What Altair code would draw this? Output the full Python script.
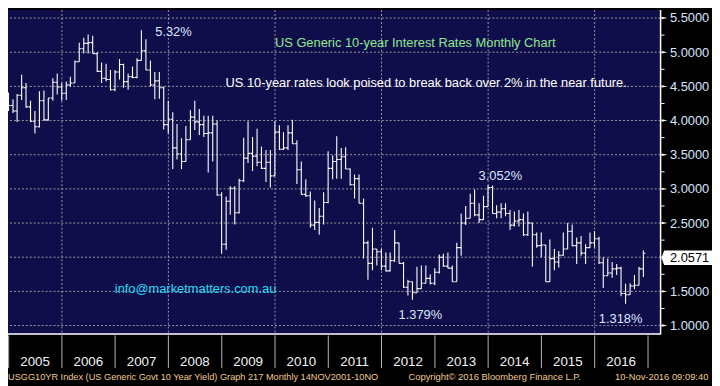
import altair as alt
import pandas as pd

FONT = "Liberation Sans"

# Monthly OHLC of the US generic 10-year yield, Oct 2004 .. Nov 2016
opens = [
    4.13, 4.02, 4.35,
    4.22, 4.14, 4.37, 4.48, 4.20, 3.99, 3.91, 4.29, 4.01, 4.33, 4.56, 4.49,
    4.40, 4.52, 4.55, 4.86, 5.05, 5.13, 5.14, 4.98, 4.72, 4.62, 4.60, 4.45,
    4.71, 4.82, 4.57, 4.64, 4.63, 4.88, 5.02, 4.74, 4.52, 4.58, 4.48, 3.94,
    4.02, 3.60, 3.51, 3.40, 3.72, 4.05, 3.98, 3.94, 3.81, 3.82, 3.95, 2.91,
    2.19, 2.82, 3.01, 2.65, 3.12, 3.45, 3.52, 3.48, 3.39, 3.30, 3.39, 3.19,
    3.83, 3.58, 3.60, 3.82, 3.66, 3.28, 2.92, 2.90, 2.47, 2.51, 2.60, 2.80,
    3.30, 3.40, 3.43, 3.47, 3.29, 3.06, 3.15, 2.79, 2.21, 1.91, 2.12, 2.08,
    1.87, 1.80, 1.95, 2.21, 1.91, 1.56, 1.64, 1.48, 1.54, 1.62, 1.69, 1.62,
    1.78, 2.00, 1.87, 1.84, 1.64, 2.14, 2.50, 2.57, 2.79, 2.62, 2.55, 2.74,
    3.02, 2.64, 2.66, 2.71, 2.64, 2.47, 2.53, 2.55, 2.33, 2.50, 2.33, 2.17,
    2.18, 1.64, 1.98, 1.93, 2.03, 2.12, 2.38, 2.17, 2.21, 2.06, 2.14, 2.21,
    2.27, 1.92, 1.73, 1.77, 1.83, 1.84, 1.47, 1.45, 1.58, 1.59, 1.83,
]
highs = [
    4.26, 4.36, 4.41,
    4.31, 4.39, 4.67, 4.55, 4.29, 4.14, 4.43, 4.44, 4.33, 4.62, 4.69, 4.55,
    4.57, 4.64, 4.88, 5.14, 5.21, 5.26, 5.24, 5.00, 4.85, 4.83, 4.74, 4.74,
    4.90, 4.83, 4.69, 4.79, 4.91, 5.32, 5.19, 4.88, 4.71, 4.71, 4.50, 4.29,
    4.12, 3.95, 3.74, 3.92, 4.15, 4.29, 4.17, 4.07, 4.07, 4.07, 4.00, 2.95,
    2.89, 3.04, 3.04, 3.15, 3.75, 3.99, 3.76, 3.88, 3.62, 3.57, 3.57, 3.99,
    3.93, 3.83, 3.93, 4.01, 3.71, 3.40, 3.14, 2.96, 2.83, 2.72, 2.95, 3.55,
    3.49, 3.77, 3.60, 3.61, 3.30, 3.21, 3.21, 2.86, 2.24, 2.43, 2.12, 2.12,
    2.07, 2.07, 2.40, 2.21, 1.93, 1.67, 1.64, 1.86, 1.88, 1.88, 1.75, 1.84,
    2.04, 2.05, 2.07, 1.88, 2.21, 2.64, 2.75, 2.93, 2.99, 2.79, 2.90, 3.052,
    3.05, 2.76, 2.79, 2.79, 2.69, 2.67, 2.69, 2.64, 2.67, 2.50, 2.36, 2.36,
    2.18, 2.26, 2.12, 2.09, 2.36, 2.50, 2.48, 2.29, 2.31, 2.19, 2.36, 2.38,
    2.30, 2.00, 1.98, 1.93, 1.90, 1.86, 1.61, 1.62, 1.74, 1.86, 2.10,
]
lows = [
    3.93, 4.02, 4.14,
    4.11, 3.98, 4.30, 4.19, 3.98, 3.81, 3.90, 4.00, 4.00, 4.29, 4.38, 4.29,
    4.30, 4.50, 4.55, 4.86, 4.98, 4.98, 4.98, 4.71, 4.55, 4.57, 4.44, 4.43,
    4.60, 4.48, 4.45, 4.62, 4.62, 4.88, 4.74, 4.50, 4.31, 4.32, 3.87, 3.81,
    3.29, 3.43, 3.29, 3.40, 3.72, 3.86, 3.79, 3.76, 3.24, 3.40, 2.90, 2.05,
    2.11, 2.62, 2.48, 2.64, 3.10, 3.38, 3.26, 3.33, 3.29, 3.10, 3.02, 3.19,
    3.57, 3.57, 3.57, 3.66, 3.07, 2.92, 2.88, 2.43, 2.40, 2.33, 2.48, 2.79,
    3.14, 3.15, 3.15, 3.29, 3.05, 2.86, 2.79, 1.98, 1.67, 1.81, 1.88, 1.81,
    1.79, 1.79, 1.93, 1.91, 1.55, 1.44, 1.379, 1.48, 1.54, 1.62, 1.60, 1.59,
    1.76, 1.86, 1.84, 1.64, 1.64, 2.02, 2.47, 2.57, 2.60, 2.50, 2.55, 2.74,
    2.64, 2.57, 2.57, 2.60, 2.40, 2.45, 2.45, 2.31, 2.31, 1.86, 2.14, 2.00,
    1.64, 1.64, 1.81, 1.85, 2.02, 2.12, 2.16, 1.90, 2.02, 1.90, 2.14, 2.14,
    1.90, 1.55, 1.73, 1.70, 1.74, 1.43, 1.318, 1.45, 1.53, 1.59, 1.71,
]
closes = [
    4.02, 4.35, 4.22,
    4.14, 4.37, 4.48, 4.20, 3.99, 3.91, 4.29, 4.01, 4.33, 4.56, 4.49, 4.40,
    4.52, 4.55, 4.86, 5.05, 5.13, 5.14, 4.98, 4.72, 4.62, 4.60, 4.45, 4.71,
    4.82, 4.57, 4.64, 4.63, 4.88, 5.02, 4.74, 4.52, 4.58, 4.48, 3.94, 4.02,
    3.60, 3.51, 3.40, 3.72, 4.05, 3.98, 3.94, 3.81, 3.82, 3.95, 2.91, 2.19,
    2.82, 3.01, 2.65, 3.12, 3.45, 3.52, 3.48, 3.39, 3.30, 3.39, 3.19, 3.83,
    3.58, 3.60, 3.82, 3.66, 3.28, 2.92, 2.90, 2.47, 2.51, 2.60, 2.80, 3.30,
    3.40, 3.43, 3.47, 3.29, 3.06, 3.15, 2.79, 2.21, 1.91, 2.12, 2.08, 1.87,
    1.80, 1.95, 2.21, 1.91, 1.56, 1.64, 1.48, 1.54, 1.62, 1.69, 1.62, 1.78,
    2.00, 1.87, 1.84, 1.64, 2.14, 2.50, 2.57, 2.79, 2.62, 2.55, 2.74, 3.02,
    2.64, 2.66, 2.71, 2.64, 2.47, 2.53, 2.55, 2.33, 2.50, 2.33, 2.17, 2.18,
    1.64, 1.98, 1.93, 2.03, 2.12, 2.38, 2.17, 2.21, 2.06, 2.14, 2.21, 2.27,
    1.92, 1.73, 1.77, 1.83, 1.84, 1.47, 1.45, 1.58, 1.59, 1.83, 2.0571,
]
assert len(opens) == len(highs) == len(lows) == len(closes) == 146

# axis / grid levels
label_levels = [1.0, 1.5, 2.5, 3.0, 3.5, 4.0, 4.5, 5.0, 5.5]
grid_levels = [1.0, 1.5, 2.0, 2.5, 3.0, 3.5, 4.0, 4.5, 5.0, 5.5]
minor_levels = [1.25, 1.75, 2.25, 2.75, 3.25, 3.75, 4.25, 4.75, 5.25]
years = list(range(2005, 2017))
sep_years = list(range(2005, 2018))
grid_years = [2006, 2008, 2010, 2012, 2014, 2016]
last_value = [2.0571]

# annotation anchors
ann_labels = ["5.32%", "3.052%", "1.379%", "1.318%"]
ann_dates = ["2007-06-30", "2013-12-31", "2012-07-31", "2016-07-31"]
ann_values = [5.32, 3.052, 1.379, 1.318]

COL_BG = "#0f0d4a"
COL_GRID = "#9c9c9c"
COL_AXIS = "#d8e6ff"
COL_FOOT = "#f2c98e"

n = len(closes)
month_start = pd.date_range("2004-10-01", periods=n, freq="MS")
df = pd.DataFrame({
    "date": month_start + pd.offsets.MonthEnd(0),
    "open": opens, "high": highs, "low": lows, "close": closes,
})
df["d_open"] = df["date"] - pd.Timedelta(days=14)
df["d_close"] = df["date"] + pd.Timedelta(days=14)

xs = alt.Scale(domain=[alt.DateTime(year=2004, month=12, date=27, hours=14),
                       alt.DateTime(year=2017, month=3, date=28)])
ys = alt.Scale(domain=[0.870, 5.616], zero=False, nice=False)

Y_AXIS = alt.Axis(
    orient="right", values=label_levels, format=".4f", ticks=False, tickSize=0,
    domain=False, grid=False, labelPadding=9, labelColor=COL_AXIS, labelFont=FONT,
    labelFontSize=13, labelFlush=False, labelOverlap=False, title=None)


def Y(field):
    return alt.Y(field, scale=ys, axis=Y_AXIS, title=None)


def X(field):
    return alt.X(field, scale=xs, axis=None, title=None)


W, H = 660, 328

hgrid = alt.Chart(pd.DataFrame({"lvl": grid_levels})).mark_rule(
    color=COL_GRID, strokeDash=[2, 2], strokeWidth=1
).encode(y=Y("lvl:Q"))

vgrid = alt.Chart(pd.DataFrame({"d": pd.to_datetime([f"{y}-01-01" for y in grid_years])})).mark_rule(
    color=COL_GRID, strokeDash=[2, 2], strokeWidth=1
).encode(x=X("d:T"))

base = alt.Chart(df)
hl = base.mark_rule(color="white", strokeWidth=1.1, clip=True).encode(
    x=X("date:T"), y=Y("low:Q"), y2="high:Q")
op = base.mark_rule(color="white", strokeWidth=1.1, clip=True).encode(
    x=X("d_open:T"), x2="date:T", y=Y("open:Q"))
cl = base.mark_rule(color="white", strokeWidth=1.1, clip=True).encode(
    x=X("date:T"), x2="d_close:T", y=Y("close:Q"))

# frame
frame_bottom = alt.Chart(pd.DataFrame({"a": [0]})).mark_rule(color="white", strokeWidth=1.5).encode(
    x=alt.value(0), x2=alt.value(W), y=alt.value(H - 0.5))
frame_right = alt.Chart(pd.DataFrame({"a": [0]})).mark_rule(color="white", strokeWidth=1.5).encode(
    x=alt.value(W), y=alt.value(0), y2=alt.value(H))

# bottom year strip
sep = alt.Chart(pd.DataFrame({"d": pd.to_datetime([f"{y}-01-01" for y in sep_years])})).mark_rule(
    color="#b4b4b4", strokeWidth=1
).encode(x=X("d:T"), y=alt.value(H + 1), y2=alt.value(H + 34))
year_lbl = alt.Chart(pd.DataFrame({
    "d": pd.to_datetime([f"{y}-07-01" for y in years]), "lab": [str(y) for y in years]
})).mark_text(font=FONT, fontSize=13.5, color="#f2f2f2", align="center", baseline="alphabetic").encode(
    x=X("d:T"), y=alt.value(359.7), text="lab:N")

# right-axis decorations
minor = alt.Chart(pd.DataFrame({"lvl": minor_levels})).mark_rule(color="white", strokeWidth=1).encode(
    x=alt.value(W), x2=alt.value(W + 4), y=Y("lvl:Q"))
arrows = alt.Chart(pd.DataFrame({"lvl": grid_levels})).mark_point(
    shape="M -1 -0.4 L 1 0 L -1 0.4 Z", filled=True, color="white", opacity=1, size=36
).encode(x=alt.value(W + 4), y=Y("lvl:Q"))
lv = pd.DataFrame({"v": last_value})
last_box = alt.Chart(lv).mark_point(
    shape="M -1 0 L -0.9 -0.29 L 1 -0.29 L 1 0.29 L -0.9 0.29 Z",
    filled=True, color="white", opacity=1, size=2601, yOffset=4.5
).encode(x=alt.value(W + 26.5), y=Y("v:Q"))
last_txt = alt.Chart(lv).mark_text(
    font=FONT, fontSize=13, color="black", align="left", baseline="alphabetic", dy=8.7
).encode(x=alt.value(W + 9.5), y=Y("v:Q"), text=alt.Text("v:Q", format=".4f"))

# data-anchored annotations
ann = pd.DataFrame({"d": pd.to_datetime(ann_dates), "v": ann_values, "lab": ann_labels})
ann_off = {"5.32%": ("left", 14, 5.5), "3.052%": ("left", -9.5, -5),
           "1.379%": ("center", 8, 20), "1.318%": ("center", -5, 19)}
ann_layers = []
for lab, (al, dx, dy) in ann_off.items():
    ann_layers.append(
        alt.Chart(ann).transform_filter(alt.datum.lab == lab).mark_text(
            font=FONT, fontSize=13, color="#dde8ff", align=al, baseline="alphabetic", dx=dx, dy=dy
        ).encode(x=X("d:T"), y=Y("v:Q"), text="lab:N")
    )


def label(text, x, y, color, size=13, align="left"):
    return alt.Chart(pd.DataFrame({"s": [text]})).mark_text(
        font=FONT, fontSize=size, color=color, align=align, baseline="alphabetic"
    ).encode(x=alt.value(x), y=alt.value(y), text="s:N")


texts = [
    label("US Generic 10-year Interest Rates Monthly Chart", 270, 37.3, "#8fe88f"),
    label("US 10-year rates look poised to break back over 2% in the near future.", 220, 77.3, "#ffffff"),
    label("info@marketmatters.com.au", 108, 286.3, "#22dcf5"),
    label("USGG10YR Index (US Generic Govt 10 Year Yield) Graph 217  Monthly 14NOV2001-10NO",
          0, 374.3, COL_FOOT, size=9.3),
    label("Copyright\u00a9 2016 Bloomberg Finance L.P.", 405, 374.3, COL_FOOT, size=9.5),
    label("10-Nov-2016 09:09:40", 614, 374.3, COL_FOOT, size=9.5),
]

chart = alt.layer(
    hgrid, vgrid, hl, op, cl, frame_bottom, frame_right, sep, year_lbl,
    minor, arrows, last_box, last_txt, *ann_layers, *texts
).properties(
    width=W, height=H,
    background="#000000",
    padding={"left": 0, "top": 0, "right": 52, "bottom": 50},
    autosize=alt.AutoSizeParams(type="none"),
).configure_view(fill=COL_BG, strokeWidth=0)

chart.save("out.html", embed_options={"renderer": "svg", "actions": False})
